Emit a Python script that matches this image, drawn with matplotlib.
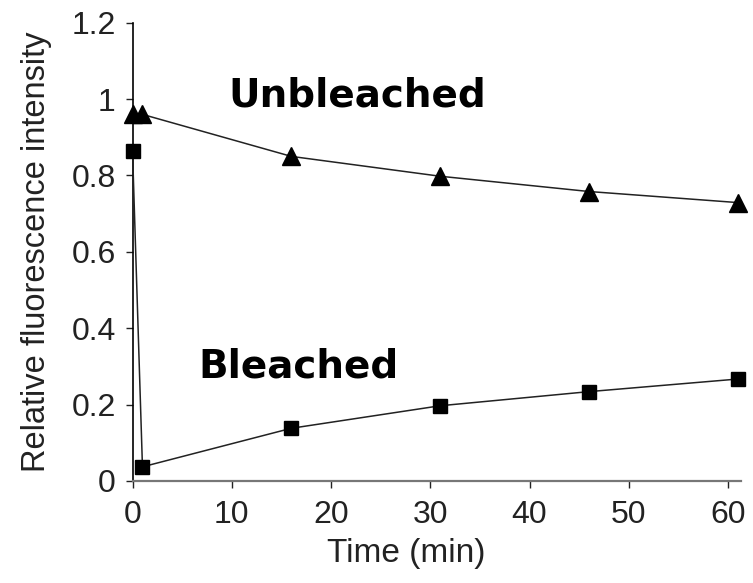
import numpy as np
import matplotlib
matplotlib.use('Agg')
import matplotlib.pyplot as plt

plt.rcParams['font.family'] = ['Liberation Sans', 'DejaVu Sans']

# time points (min)
time = [0, 1, 16, 31, 46, 61]
unbleached = [0.96, 0.96, 0.85, 0.798, 0.758, 0.729]
bleached = [0.863, 0.037, 0.138, 0.197, 0.234, 0.267]

xticks = [0, 10, 20, 30, 40, 50, 60]
yticks = [0, 0.2, 0.4, 0.6, 0.8, 1.0, 1.2]
yticklabels = ['0', '0.2', '0.4', '0.6', '0.8', '1', '1.2']


def main():
    fig = plt.figure(figsize=(7.53, 5.83), dpi=100)
    ax = fig.add_axes([0.176, 0.175, 0.808, 0.786])

    ax.plot(time, unbleached, color='#222222', lw=1.1, marker='^',
            ms=13, mfc='black', mec='black', clip_on=False, zorder=3)
    ax.plot(time, bleached, color='#222222', lw=1.1, marker='s',
            ms=10, mfc='black', mec='black', clip_on=False, zorder=3)

    ax.set_xlim(0, 61.3)
    ax.set_ylim(0, 1.2)
    ax.set_xticks(xticks)
    ax.set_yticks(yticks)
    ax.set_yticklabels(yticklabels)

    for s in ['top', 'right']:
        ax.spines[s].set_visible(False)
    ax.spines['left'].set_linewidth(1.2)
    ax.spines['bottom'].set_linewidth(1.6)
    ax.spines['bottom'].set_color('#777777')

    ax.tick_params(axis='both', direction='out', length=5, width=1,
                   labelsize=23, colors='#222222')
    ax.tick_params(axis='x', pad=9)
    ax.tick_params(axis='y', pad=7)

    ax.set_xlabel('Time (min)', fontsize=24, color='#222222')
    ax.set_ylabel('Relative fluorescence intensity', fontsize=23.5,
                  color='#222222')
    ax.xaxis.set_label_coords(0.45, -0.125)
    ax.yaxis.set_label_coords(-0.133, 0.5)

    ax.text(9.7, 1.01, 'Unbleached', fontsize=28, fontweight='bold',
            ha='left', va='center', family='DejaVu Sans')
    ax.text(6.6, 0.30, 'Bleached', fontsize=28, fontweight='bold',
            ha='left', va='center', family='DejaVu Sans')

    fig.savefig('out.png', dpi=100)


if __name__ == '__main__':
    main()
